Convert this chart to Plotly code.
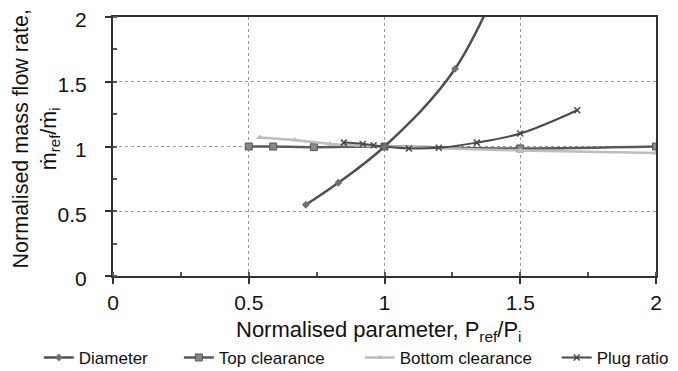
import plotly.graph_objects as go

# Data
diam_x = [0.71, 0.83, 1.0, 1.26, 1.5]
diam_y = [0.55, 0.72, 1.0, 1.6, 2.65]

top_x = [0.5, 0.59, 0.74, 1.0, 1.5, 2.0]
top_y = [1.0, 1.0, 0.995, 1.0, 0.985, 1.0]

bot_x = [0.54, 0.67, 0.8, 1.0, 1.5, 2.0]
bot_y = [1.07, 1.05, 1.02, 1.0, 0.97, 0.95]

plug_x = [0.85, 0.92, 0.96, 1.0, 1.09, 1.2, 1.34, 1.5, 1.71]
plug_y = [1.03, 1.02, 1.01, 1.0, 0.985, 0.99, 1.03, 1.1, 1.28]

ticks = [0, 0.5, 1, 1.5, 2]
tick_text = ["0", "0.5", "1", "1.5", "2"]

x_title = "Normalised parameter, P<sub>ref</sub>/P<sub>i</sub>"
y_title = "Normalised mass flow rate,<br>ṁ<sub>ref</sub>/ṁ<sub>i</sub>"

FONT = "Liberation Sans, Arial, sans-serif"
TXT = "#111111"

fig = go.Figure()
fig.add_trace(go.Scatter(x=top_x, y=top_y, name="Top clearance", mode="lines+markers",
                         legend="legend2",
                         line=dict(color="#5a5a5a", width=2.5, shape="spline"),
                         marker=dict(symbol="square", size=7, color="#888888",
                                     line=dict(color="#555555", width=1))))
fig.add_trace(go.Scatter(x=bot_x, y=bot_y, name="Bottom clearance", mode="lines+markers",
                         legend="legend3",
                         line=dict(color="#bdbdbd", width=2.5, shape="spline"),
                         marker=dict(symbol="triangle-up", size=6, color="#bdbdbd")))
fig.add_trace(go.Scatter(x=plug_x, y=plug_y, name="Plug ratio", mode="lines+markers",
                         legend="legend4",
                         line=dict(color="#4a4a4a", width=2, shape="spline"),
                         marker=dict(symbol="x-thin", size=6, color="#4a4a4a",
                                     line=dict(color="#4a4a4a", width=1.5))))
fig.add_trace(go.Scatter(x=diam_x, y=diam_y, name="Diameter", mode="lines+markers",
                         legend="legend",
                         line=dict(color="#505050", width=2.5, shape="spline"),
                         marker=dict(symbol="diamond", size=6, color="#707070")))

axis_common = dict(
    range=[0, 2], tickvals=ticks, ticktext=tick_text,
    showline=True, linecolor="#333333", linewidth=2, mirror=True,
    showgrid=True, gridcolor="#9a9a9a", griddash="dot", gridwidth=1,
    ticks="outside", ticklen=6, tickcolor="#333333", tickwidth=1.5,
    tickfont=dict(family=FONT, size=21, color=TXT),
    zeroline=False, automargin=False, ticklabeloverflow="allow",
    minor=dict(dtick=0.25, ticks="inside", ticklen=4, tickcolor="#555555", showgrid=False),
)

fig.update_xaxes(**axis_common, ticklabelstandoff=1)
fig.update_yaxes(**axis_common, ticklabelstandoff=14, ticklabelshift=3)

# Axis titles as annotations for exact placement
fig.add_annotation(text=x_title, xref="paper", yref="paper", x=0.49, y=-0.212,
                   xanchor="center", yanchor="middle", showarrow=False,
                   font=dict(family=FONT, size=22, color=TXT))
fig.add_annotation(text=y_title, xref="paper", yref="paper", x=-0.1415, y=0.528,
                   xanchor="center", yanchor="middle", showarrow=False, textangle=-90,
                   font=dict(family=FONT, size=21.5, color=TXT))

leg_common = dict(orientation="h", yref="container", y=0.036, yanchor="middle",
                  xref="container", xanchor="left", bgcolor="rgba(0,0,0,0)",
                  font=dict(family=FONT, size=17, color=TXT))

fig.update_layout(
    width=670, height=363,
    margin=dict(l=105, r=22, t=9, b=95, autoexpand=False),
    paper_bgcolor="white", plot_bgcolor="white",
    showlegend=True,
    legend=dict(**leg_common, x=0.046),
    legend2=dict(**leg_common, x=0.255),
    legend3=dict(**leg_common, x=0.525),
    legend4=dict(**leg_common, x=0.819),
)

fig.write_html("out.html")
